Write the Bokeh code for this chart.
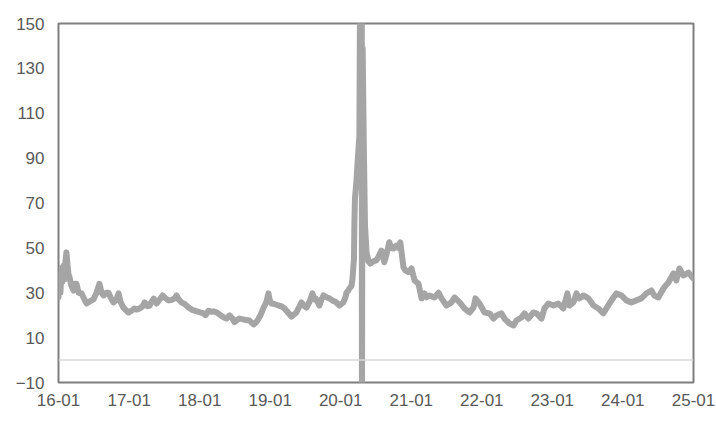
import pandas as pd
from bokeh.plotting import figure
from bokeh.models import Range1d, FixedTicker, Span
from bokeh.embed import file_html
from bokeh.resources import INLINE

dates = [
    "2016-01-01", "2016-01-06", "2016-01-11", "2016-01-17", "2016-01-22", "2016-01-27",
    "2016-02-01", "2016-02-06", "2016-02-11", "2016-02-17", "2016-02-22", "2016-02-27",
    "2016-03-08", "2016-03-19", "2016-03-24", "2016-04-03", "2016-04-14", "2016-04-29",
    "2016-05-09", "2016-05-25", "2016-06-09", "2016-06-30", "2016-07-16", "2016-07-31",
    "2016-08-11", "2016-08-21", "2016-09-05", "2016-09-16", "2016-09-26", "2016-10-12",
    "2016-10-27", "2016-11-07", "2016-11-17", "2016-12-02", "2016-12-18", "2016-12-28",
    "2017-01-14", "2017-01-29", "2017-02-09", "2017-02-24", "2017-03-12", "2017-03-22",
    "2017-04-06", "2017-04-17", "2017-04-27", "2017-05-08", "2017-05-23", "2017-06-08",
    "2017-06-23", "2017-07-09", "2017-07-24", "2017-08-09", "2017-08-24", "2017-09-03",
    "2017-09-14", "2017-09-29", "2017-10-15", "2017-11-05", "2017-11-20", "2017-12-06",
    "2017-12-26",
    "2018-01-21", "2018-01-31", "2018-02-16", "2018-03-03", "2018-03-14", "2018-03-29",
    "2018-04-19", "2018-05-05", "2018-05-20", "2018-06-05", "2018-06-20", "2018-06-30",
    "2018-07-16", "2018-07-26", "2018-08-21", "2018-09-16", "2018-10-07", "2018-10-22",
    "2018-11-02", "2018-11-12", "2018-11-28", "2018-12-13", "2018-12-23", "2018-12-29",
    "2019-01-08", "2019-01-23", "2019-02-13", "2019-02-28", "2019-03-16", "2019-03-31",
    "2019-04-21", "2019-05-07", "2019-05-17", "2019-06-02", "2019-06-12", "2019-06-28",
    "2019-07-08", "2019-07-24", "2019-08-08", "2019-08-19", "2019-08-24", "2019-09-03",
    "2019-09-13", "2019-09-24", "2019-10-04", "2019-10-20", "2019-11-04", "2019-11-20",
    "2019-12-05", "2019-12-26",
    "2020-01-05", "2020-01-15", "2020-01-26", "2020-01-31", "2020-02-10", "2020-02-15",
    "2020-02-26", "2020-03-02", "2020-03-10", "2020-03-12", "2020-03-15", "2020-03-23",
    "2020-03-30", "2020-04-07", "2020-04-19", "2020-04-20", "2020-04-24", "2020-04-30",
    "2020-05-06", "2020-05-14", "2020-05-24", "2020-06-03", "2020-06-18", "2020-07-04",
    "2020-07-14", "2020-07-30", "2020-08-14", "2020-08-25", "2020-09-09", "2020-09-19",
    "2020-09-30", "2020-10-15", "2020-10-26", "2020-11-05", "2020-11-21", "2020-12-01",
    "2020-12-17",
    "2021-01-02", "2021-01-18", "2021-02-07", "2021-02-23", "2021-03-10", "2021-03-21",
    "2021-04-05", "2021-05-01", "2021-05-22", "2021-06-06", "2021-07-02", "2021-07-28",
    "2021-08-13", "2021-09-08", "2021-10-03", "2021-10-29", "2021-11-19", "2021-11-29",
    "2021-12-20",
    "2022-01-15", "2022-02-10", "2022-03-02", "2022-03-18", "2022-04-13", "2022-04-28",
    "2022-05-24", "2022-06-14", "2022-06-29", "2022-07-25", "2022-08-10", "2022-08-30",
    "2022-09-25", "2022-10-11", "2022-11-06", "2022-11-21", "2022-12-12",
    "2023-01-07", "2023-02-01", "2023-02-27", "2023-03-20", "2023-03-30", "2023-04-20",
    "2023-05-06", "2023-05-21", "2023-06-11", "2023-07-07", "2023-08-02", "2023-08-27",
    "2023-09-22", "2023-10-08", "2023-11-03", "2023-11-29", "2023-12-25",
    "2024-01-19", "2024-02-14", "2024-03-11", "2024-04-06", "2024-05-02", "2024-05-28",
    "2024-06-12", "2024-07-03", "2024-07-29", "2024-08-24", "2024-09-19", "2024-10-04",
    "2024-10-20", "2024-11-10", "2024-12-06", "2024-12-31",
]

values = [
    28, 38, 30, 41, 35, 42,
    36, 44, 48, 42, 38, 37,
    33, 31, 34, 34, 30, 29.7,
    28, 25.2, 26, 27, 30, 34,
    30, 28.8, 30, 30, 28, 25.7,
    27, 29.7, 26, 23.4, 22, 21.2,
    22, 23, 22.5, 23, 24, 25.7,
    24, 24.3, 26, 27.4, 25.2, 27,
    28.8, 27.5, 26.6, 26.8, 27.5, 28.8,
    27, 25.7, 25, 23.4, 22.5, 22,
    21.5,
    20.8, 20, 22, 21.5, 21.7, 21.3,
    20, 19.1, 18.5, 19.9, 18.5, 16.9,
    18, 18.5, 18, 17.6, 15.9, 17,
    18.5, 20, 23.4, 26, 29.7, 27,
    25.2, 25, 24.3, 24, 23, 21.5,
    19.4, 20.5, 21.2, 24, 25.7, 24,
    23.4, 26, 29.7, 27, 27.5, 26,
    24.3, 27, 28.8, 28, 27.5, 26.5,
    26, 24.3,
    25, 25.7, 28, 30, 31, 31.9,
    33, 36, 45, 60, 72, 80,
    90, 100, 330, -40, 139, 95,
    60, 48, 44, 43, 44, 44.4,
    46, 48.8, 43.6, 47, 52.5, 50,
    49.7, 51, 50, 52.5, 41.4, 40,
    39.2,
    40.8, 35.5, 34, 27.5, 29.7, 28,
    28.8, 27.9, 30, 27.5, 24.3, 25.7,
    27.9, 25.7, 23, 21.2, 23.4, 27.5,
    25.2,
    21.2, 20.8, 18.5, 19.9, 20.8, 18.5,
    16.3, 15.4, 17.6, 19, 20.8, 18.5,
    21.2, 20.8, 18.5, 23, 25.2,
    24.3, 25.2, 23, 29.7, 24.3, 25.7,
    29.7, 27.5, 28.8, 27.5, 24.3, 23,
    20.8, 23, 26.6, 29.7, 28.8,
    26.6, 25.7, 26.6, 27.5, 29.7, 31,
    28.8, 27.9, 31.9, 34.6, 38.6, 35.5,
    40.8, 37.7, 39, 36.4,
]

tick_dates = ["2016-01-01", "2017-01-01", "2018-01-01", "2019-01-01", "2020-01-01",
              "2021-01-01", "2022-01-01", "2023-01-01", "2024-01-01", "2025-01-01"]
tick_labels = ["16-01", "17-01", "18-01", "19-01", "20-01",
               "21-01", "22-01", "23-01", "24-01", "25-01"]
y_ticks = [-10, 10, 30, 50, 70, 90, 110, 130, 150]

x = pd.to_datetime(dates)
tick_ms = [pd.Timestamp(d).value // 10**6 for d in tick_dates]

p = figure(width=716, height=425, output_backend="svg", toolbar_location=None,
           x_axis_type="datetime",
           x_range=Range1d(pd.Timestamp(tick_dates[0]), pd.Timestamp(tick_dates[-1])),
           y_range=Range1d(-10, 150),
           min_border_left=58, min_border_right=23, min_border_top=23, min_border_bottom=43)

p.background_fill_color = "white"
p.border_fill_color = "white"
p.outline_line_color = "#7f7f7f"
p.outline_line_width = 2
p.xgrid.grid_line_color = None
p.ygrid.grid_line_color = None

zero = Span(location=0, dimension="width", line_color="#d9d9d9", line_width=1.5)
p.add_layout(zero)

p.line(x, values, line_width=6, line_color="#a5a5a5", line_join="round", line_cap="round")

p.xaxis.ticker = FixedTicker(ticks=tick_ms)
p.xaxis.major_label_overrides = {t: l for t, l in zip(tick_ms, tick_labels)}
p.yaxis.ticker = FixedTicker(ticks=y_ticks)

for ax in (p.xaxis[0], p.yaxis[0]):
    ax.axis_line_color = None
    ax.major_tick_line_color = None
    ax.minor_tick_line_color = None
    ax.major_tick_out = 0
    ax.major_tick_in = 0
    ax.major_label_text_font = "Liberation Sans"
    ax.major_label_text_font_size = "17px"
    ax.major_label_text_color = "#595959"

p.xaxis.major_label_standoff = 11
p.yaxis.major_label_standoff = 14

open("out.html", "w").write(file_html(p, INLINE))
